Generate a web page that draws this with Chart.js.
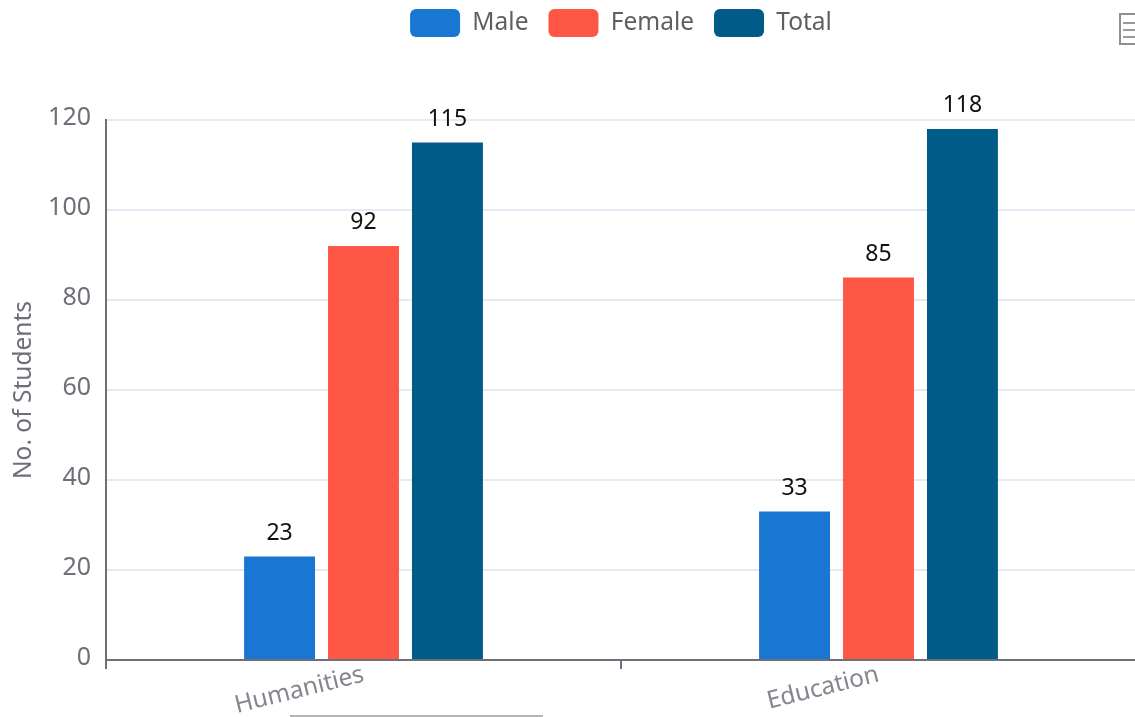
<!DOCTYPE html>
<html>
<head>
<meta charset="utf-8">
<title>Students by faculty</title>
<script src="https://cdn.jsdelivr.net/npm/chart.js@4"></script>
<style>
  html, body { margin: 0; padding: 0; background: #fff; overflow: hidden; }
  #wrap { position: relative; width: 1135px; height: 717px; overflow: hidden; }
  #chart { position: absolute; left: 0; top: 0; }
  /* toolbox icon, cut off by the right edge in the reference */
  #tool { position: absolute; left: 1119px; top: 13px; width: 30px; height: 32px; box-sizing: border-box; border: 2px solid #8f8f8f; }
  #tool i { position: absolute; left: 2px; right: 0; height: 2px; background: #9a9a9a; }
  #strip { position: absolute; left: 290px; top: 715px; width: 253px; height: 2px; background: #b4b4b4; }
</style>
</head>
<body>
<div id="wrap">
  <canvas id="chart" width="1242" height="717"></canvas>
  <div id="tool"><i style="top:7px"></i><i style="top:14px"></i><i style="top:21px"></i></div>
  <div id="strip"></div>
</div>
<script>
const categories = ['Humanities', 'Education'];
const male = [23, 33];
const female = [92, 85];
const total = [115, 118];

const FONT = '"Noto Sans", sans-serif';
const GREY = '#6E7079';

// value labels above each bar
const barLabels = {
  id: 'barLabels',
  afterDatasetsDraw(chart) {
    const ctx = chart.ctx;
    ctx.save();
    ctx.font = '23px ' + FONT;
    ctx.fillStyle = '#111';
    ctx.textAlign = 'center';
    ctx.textBaseline = 'middle';
    chart.data.datasets.forEach((ds, i) => {
      chart.getDatasetMeta(i).data.forEach((bar, j) => {
        ctx.fillText(ds.data[j], bar.x, bar.y - 23.5);
      });
    });
    ctx.restore();
  },
};

// legend is centred on the whole canvas and sits above the layout padding
const legendPlace = {
  id: 'legendPlace',
  afterLayout(chart) {
    chart.legend.left = 0;
    chart.legend.right = chart.width;
    chart.legend.top = -11;
  },
};

new Chart(document.getElementById('chart'), {
  type: 'bar',
  data: {
    labels: categories,
    datasets: [
      { label: 'Male', data: male, backgroundColor: '#1976D2' },
      { label: 'Female', data: female, backgroundColor: '#FF5745' },
      { label: 'Total', data: total, backgroundColor: '#005B88' },
    ],
  },
  options: {
    responsive: false,
    animation: false,
    layout: { padding: { left: 0, right: 106, top: 62, bottom: 0 } },
    datasets: { bar: { categoryPercentage: 0.489, barPercentage: 0.845, borderWidth: 0 } },
    plugins: {
      tooltip: { enabled: false },
      legend: {
        position: 'top',
        labels: {
          boxWidth: 50,
          boxHeight: 28,
          useBorderRadius: true,
          borderRadius: 6,
          padding: 20,
          color: '#5f5f5f',
          font: { family: FONT, size: 24.5 },
        },
      },
    },
    scales: {
      x: {
        afterFit: s => { s.height = 57; },
        grid: { offset: true, drawOnChartArea: false, color: GREY, tickLength: 9, lineWidth: 2 },
        border: { color: GREY, width: 2 },
        ticks: { color: '#85878f', font: { family: FONT, size: 24.5 }, minRotation: 14, maxRotation: 14, padding: -9 },
      },
      y: {
        min: 0,
        max: 120,
        afterFit: s => { s.width = 106; },
        title: { display: true, text: 'No. of Students', color: GREY, font: { family: FONT, size: 24.5 }, padding: { top: 9, bottom: 0 } },
        grid: { color: '#E4E9F4', drawTicks: false, lineWidth: 2 },
        border: { color: GREY, width: 2 },
        ticks: { stepSize: 20, color: GREY, font: { family: FONT, size: 25 }, padding: 15, labelOffset: -2.5 },
      },
    },
  },
  plugins: [barLabels, legendPlace],
});
</script>
</body>
</html>
